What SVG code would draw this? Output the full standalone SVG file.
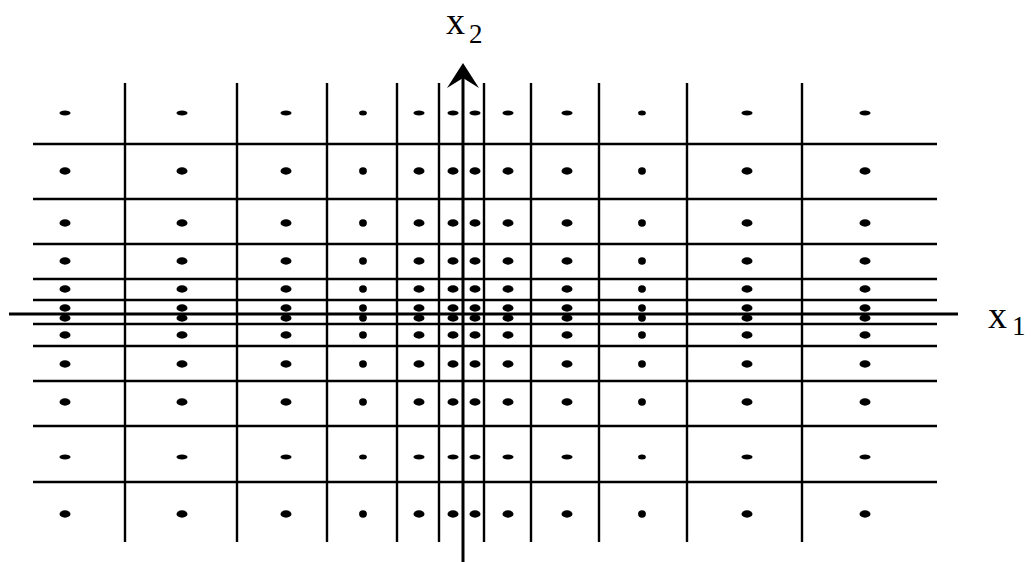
<svg xmlns="http://www.w3.org/2000/svg" width="1031" height="562" viewBox="0 0 1031 562">
<style>
.grid line{stroke:#000;stroke-width:2.4}
.axis line{stroke:#000;stroke-width:3}
.dots ellipse{fill:#000}
.lbl{font-family:"Liberation Serif","Times New Roman",serif;fill:#000}
</style>
<rect width="1031" height="562" fill="#fff"/>
<g id="grid" class="grid">
<line x1="125" y1="83" x2="125" y2="542"/>
<line x1="237" y1="83" x2="237" y2="542"/>
<line x1="327" y1="83" x2="327" y2="542"/>
<line x1="397" y1="83" x2="397" y2="542"/>
<line x1="439" y1="83" x2="439" y2="542"/>
<line x1="484" y1="83" x2="484" y2="542"/>
<line x1="531" y1="83" x2="531" y2="542"/>
<line x1="599" y1="83" x2="599" y2="542"/>
<line x1="687" y1="83" x2="687" y2="542"/>
<line x1="802" y1="83" x2="802" y2="542"/>
<line x1="33" y1="144" x2="937" y2="144"/>
<line x1="33" y1="199" x2="937" y2="199"/>
<line x1="33" y1="244" x2="937" y2="244"/>
<line x1="33" y1="279" x2="937" y2="279"/>
<line x1="33" y1="300" x2="937" y2="300"/>
<line x1="33" y1="324" x2="937" y2="324"/>
<line x1="33" y1="346" x2="937" y2="346"/>
<line x1="33" y1="381" x2="937" y2="381"/>
<line x1="33" y1="426" x2="937" y2="426"/>
<line x1="33" y1="482" x2="937" y2="482"/>
</g>
<g id="dots" class="dots">
<g transform="translate(0,113)">
<ellipse cx="65" rx="5.5" ry="2.5"/><ellipse cx="182" rx="5.5" ry="2.5"/><ellipse cx="286" rx="5.5" ry="2.5"/><ellipse cx="363" rx="3.9" ry="2.5"/><ellipse cx="419" rx="5.5" ry="2.5"/><ellipse cx="453" rx="5.5" ry="2.5"/><ellipse cx="475" rx="5.5" ry="2.5"/><ellipse cx="508" rx="5.5" ry="2.5"/><ellipse cx="567" rx="5.5" ry="2.5"/><ellipse cx="642" rx="3.9" ry="2.5"/><ellipse cx="747" rx="5.5" ry="2.5"/><ellipse cx="865" rx="5.5" ry="2.5"/>
</g>
<g transform="translate(0,171)">
<ellipse cx="65" rx="5.5" ry="3.7"/><ellipse cx="182" rx="5.5" ry="3.7"/><ellipse cx="286" rx="5.5" ry="3.7"/><ellipse cx="363" rx="3.9" ry="3.7"/><ellipse cx="419" rx="5.5" ry="3.7"/><ellipse cx="453" rx="5.5" ry="3.7"/><ellipse cx="475" rx="5.5" ry="3.7"/><ellipse cx="508" rx="5.5" ry="3.7"/><ellipse cx="567" rx="5.5" ry="3.7"/><ellipse cx="642" rx="3.9" ry="3.7"/><ellipse cx="747" rx="5.5" ry="3.7"/><ellipse cx="865" rx="5.5" ry="3.7"/>
</g>
<g transform="translate(0,223)">
<ellipse cx="65" rx="5.5" ry="3.7"/><ellipse cx="182" rx="5.5" ry="3.7"/><ellipse cx="286" rx="5.5" ry="3.7"/><ellipse cx="363" rx="3.9" ry="3.7"/><ellipse cx="419" rx="5.5" ry="3.7"/><ellipse cx="453" rx="5.5" ry="3.7"/><ellipse cx="475" rx="5.5" ry="3.7"/><ellipse cx="508" rx="5.5" ry="3.7"/><ellipse cx="567" rx="5.5" ry="3.7"/><ellipse cx="642" rx="3.9" ry="3.7"/><ellipse cx="747" rx="5.5" ry="3.7"/><ellipse cx="865" rx="5.5" ry="3.7"/>
</g>
<g transform="translate(0,261)">
<ellipse cx="65" rx="5.5" ry="3.7"/><ellipse cx="182" rx="5.5" ry="3.7"/><ellipse cx="286" rx="5.5" ry="3.7"/><ellipse cx="363" rx="3.9" ry="3.7"/><ellipse cx="419" rx="5.5" ry="3.7"/><ellipse cx="453" rx="5.5" ry="3.7"/><ellipse cx="475" rx="5.5" ry="3.7"/><ellipse cx="508" rx="5.5" ry="3.7"/><ellipse cx="567" rx="5.5" ry="3.7"/><ellipse cx="642" rx="3.9" ry="3.7"/><ellipse cx="747" rx="5.5" ry="3.7"/><ellipse cx="865" rx="5.5" ry="3.7"/>
</g>
<g transform="translate(0,289)">
<ellipse cx="65" rx="5.5" ry="3.7"/><ellipse cx="182" rx="5.5" ry="3.7"/><ellipse cx="286" rx="5.5" ry="3.7"/><ellipse cx="363" rx="3.9" ry="3.7"/><ellipse cx="419" rx="5.5" ry="3.7"/><ellipse cx="453" rx="5.5" ry="3.7"/><ellipse cx="475" rx="5.5" ry="3.7"/><ellipse cx="508" rx="5.5" ry="3.7"/><ellipse cx="567" rx="5.5" ry="3.7"/><ellipse cx="642" rx="3.9" ry="3.7"/><ellipse cx="747" rx="5.5" ry="3.7"/><ellipse cx="865" rx="5.5" ry="3.7"/>
</g>
<g transform="translate(0,308)">
<ellipse cx="65" rx="5.5" ry="3.7"/><ellipse cx="182" rx="5.5" ry="3.7"/><ellipse cx="286" rx="5.5" ry="3.7"/><ellipse cx="363" rx="3.9" ry="3.7"/><ellipse cx="419" rx="5.5" ry="3.7"/><ellipse cx="453" rx="5.5" ry="3.7"/><ellipse cx="475" rx="5.5" ry="3.7"/><ellipse cx="508" rx="5.5" ry="3.7"/><ellipse cx="567" rx="5.5" ry="3.7"/><ellipse cx="642" rx="3.9" ry="3.7"/><ellipse cx="747" rx="5.5" ry="3.7"/><ellipse cx="865" rx="5.5" ry="3.7"/>
</g>
<g transform="translate(0,318)">
<ellipse cx="65" rx="5.5" ry="3.7"/><ellipse cx="182" rx="5.5" ry="3.7"/><ellipse cx="286" rx="5.5" ry="3.7"/><ellipse cx="363" rx="3.9" ry="3.7"/><ellipse cx="419" rx="5.5" ry="3.7"/><ellipse cx="453" rx="5.5" ry="3.7"/><ellipse cx="475" rx="5.5" ry="3.7"/><ellipse cx="508" rx="5.5" ry="3.7"/><ellipse cx="567" rx="5.5" ry="3.7"/><ellipse cx="642" rx="3.9" ry="3.7"/><ellipse cx="747" rx="5.5" ry="3.7"/><ellipse cx="865" rx="5.5" ry="3.7"/>
</g>
<g transform="translate(0,335)">
<ellipse cx="65" rx="5.5" ry="3.7"/><ellipse cx="182" rx="5.5" ry="3.7"/><ellipse cx="286" rx="5.5" ry="3.7"/><ellipse cx="363" rx="3.9" ry="3.7"/><ellipse cx="419" rx="5.5" ry="3.7"/><ellipse cx="453" rx="5.5" ry="3.7"/><ellipse cx="475" rx="5.5" ry="3.7"/><ellipse cx="508" rx="5.5" ry="3.7"/><ellipse cx="567" rx="5.5" ry="3.7"/><ellipse cx="642" rx="3.9" ry="3.7"/><ellipse cx="747" rx="5.5" ry="3.7"/><ellipse cx="865" rx="5.5" ry="3.7"/>
</g>
<g transform="translate(0,364)">
<ellipse cx="65" rx="5.5" ry="3.7"/><ellipse cx="182" rx="5.5" ry="3.7"/><ellipse cx="286" rx="5.5" ry="3.7"/><ellipse cx="363" rx="3.9" ry="3.7"/><ellipse cx="419" rx="5.5" ry="3.7"/><ellipse cx="453" rx="5.5" ry="3.7"/><ellipse cx="475" rx="5.5" ry="3.7"/><ellipse cx="508" rx="5.5" ry="3.7"/><ellipse cx="567" rx="5.5" ry="3.7"/><ellipse cx="642" rx="3.9" ry="3.7"/><ellipse cx="747" rx="5.5" ry="3.7"/><ellipse cx="865" rx="5.5" ry="3.7"/>
</g>
<g transform="translate(0,402)">
<ellipse cx="65" rx="5.5" ry="3.7"/><ellipse cx="182" rx="5.5" ry="3.7"/><ellipse cx="286" rx="5.5" ry="3.7"/><ellipse cx="363" rx="3.9" ry="3.7"/><ellipse cx="419" rx="5.5" ry="3.7"/><ellipse cx="453" rx="5.5" ry="3.7"/><ellipse cx="475" rx="5.5" ry="3.7"/><ellipse cx="508" rx="5.5" ry="3.7"/><ellipse cx="567" rx="5.5" ry="3.7"/><ellipse cx="642" rx="3.9" ry="3.7"/><ellipse cx="747" rx="5.5" ry="3.7"/><ellipse cx="865" rx="5.5" ry="3.7"/>
</g>
<g transform="translate(0,457)">
<ellipse cx="65" rx="5.5" ry="2.5"/><ellipse cx="182" rx="5.5" ry="2.5"/><ellipse cx="286" rx="5.5" ry="2.5"/><ellipse cx="363" rx="3.9" ry="2.5"/><ellipse cx="419" rx="5.5" ry="2.5"/><ellipse cx="453" rx="5.5" ry="2.5"/><ellipse cx="475" rx="5.5" ry="2.5"/><ellipse cx="508" rx="5.5" ry="2.5"/><ellipse cx="567" rx="5.5" ry="2.5"/><ellipse cx="642" rx="3.9" ry="2.5"/><ellipse cx="747" rx="5.5" ry="2.5"/><ellipse cx="865" rx="5.5" ry="2.5"/>
</g>
<g transform="translate(0,514)">
<ellipse cx="65" rx="5.5" ry="3.7"/><ellipse cx="182" rx="5.5" ry="3.7"/><ellipse cx="286" rx="5.5" ry="3.7"/><ellipse cx="363" rx="3.9" ry="3.7"/><ellipse cx="419" rx="5.5" ry="3.7"/><ellipse cx="453" rx="5.5" ry="3.7"/><ellipse cx="475" rx="5.5" ry="3.7"/><ellipse cx="508" rx="5.5" ry="3.7"/><ellipse cx="567" rx="5.5" ry="3.7"/><ellipse cx="642" rx="3.9" ry="3.7"/><ellipse cx="747" rx="5.5" ry="3.7"/><ellipse cx="865" rx="5.5" ry="3.7"/>
</g>
</g>
<g id="axes" class="axis">
<line x1="9" y1="314" x2="958" y2="314"/>
<line x1="463" y1="78" x2="463" y2="562"/>
<polygon points="463,63 447,88 463,78 479,88" fill="#000"/>
</g>
<g id="label-x2">
<text class="lbl" x="446" y="34" font-size="38">x</text>
<text class="lbl" x="469" y="43" font-size="27">2</text>
</g>
<g id="label-x1">
<text class="lbl" x="988" y="328" font-size="38">x</text>
<text class="lbl" x="1012" y="335" font-size="27">1</text>
</g>
</svg>
